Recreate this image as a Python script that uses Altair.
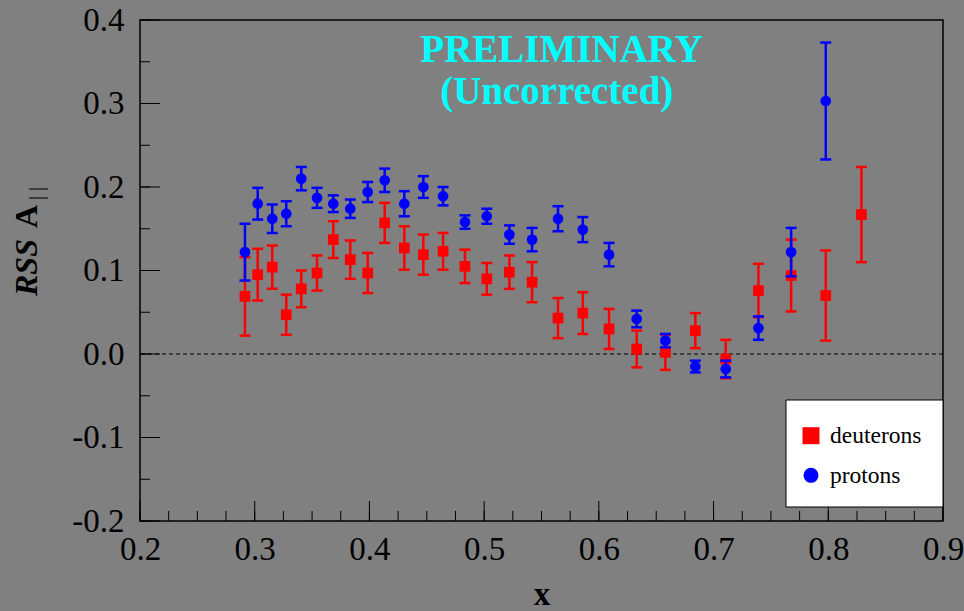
import altair as alt
import pandas as pd

# Bin centres in x (deuterons have one extra high-x bin)
x_bins = [0.2915, 0.3026, 0.3153, 0.3275, 0.3406, 0.3543, 0.3685, 0.3833,
          0.3985, 0.4133, 0.4304, 0.4470, 0.4642, 0.4833, 0.5023, 0.5220,
          0.5418, 0.5644, 0.5860, 0.6089, 0.6330, 0.6580, 0.6841, 0.7106,
          0.7391, 0.7676, 0.7978, 0.8289]

# Deuteron asymmetry and statistical errors
deut_a = [0.069, 0.095, 0.104, 0.047, 0.078, 0.097, 0.137, 0.113, 0.097,
          0.157, 0.127, 0.119, 0.123, 0.105, 0.090, 0.098, 0.086, 0.043,
          0.049, 0.030, 0.006, 0.002, 0.028, -0.006, 0.076, 0.094, 0.070,
          0.167]
deut_err = [0.047, 0.031, 0.026, 0.024, 0.022, 0.021, 0.022, 0.023, 0.024,
            0.024, 0.026, 0.024, 0.022, 0.020, 0.019, 0.020, 0.024, 0.024,
            0.025, 0.024, 0.022, 0.021, 0.021, 0.023, 0.032, 0.043, 0.054,
            0.057]

# Proton asymmetry and statistical errors
prot_a = [0.122, 0.180, 0.162, 0.168, 0.210, 0.187, 0.180, 0.174, 0.194,
          0.208, 0.180, 0.200, 0.189, 0.158, 0.165, 0.143, 0.137, 0.162,
          0.149, 0.119, 0.042, 0.016, -0.015, -0.018, 0.031, 0.122, 0.303]
prot_err = [0.034, 0.019, 0.017, 0.015, 0.014, 0.012, 0.010, 0.011, 0.012,
            0.014, 0.015, 0.013, 0.011, 0.008, 0.009, 0.011, 0.014, 0.015,
            0.015, 0.014, 0.010, 0.008, 0.007, 0.010, 0.014, 0.029, 0.070]

series_names = ["deuterons", "protons"]
series_colors = ["#FF0000", "#0000FF"]
series_shapes = ["square", "circle"]

x_ticks = [0.2, 0.3, 0.4, 0.5, 0.6, 0.7, 0.8, 0.9]
y_ticks = [-0.2, -0.1, 0.0, 0.1, 0.2, 0.3, 0.4]
x_minor = [round(0.2 + 0.025 * i, 3) for i in range(29)]
y_minor = [round(-0.2 + 0.05 * i, 3) for i in range(13)]

note_lines = ["PRELIMINARY", "(Uncorrected)"]
note_x = [0.5675, 0.5633]
note_y = [0.35, 0.30]

FONT = "Liberation Serif"
W, H = 803, 501

rows = []
for name, ys, es in [("deuterons", deut_a, deut_err), ("protons", prot_a, prot_err)]:
    for xv, yv, ev in zip(x_bins, ys, es):
        rows.append({"series": name, "x": xv, "a": yv, "lo": yv - ev, "hi": yv + ev})
df = pd.DataFrame(rows)

xscale = alt.Scale(domain=[0.2, 0.9], nice=False, zero=False)
yscale = alt.Scale(domain=[-0.2, 0.4], nice=False, zero=False)

label_expr = "replace(format(datum.value, '.1f'), '\u2212', '-')"

x_axis = alt.Axis(values=x_ticks, ticks=False, domain=False, grid=False,
                  labelFont=FONT, labelFontSize=33, labelColor="black",
                  labelPadding=12, labelFlush=False, labelOverlap=False,
                  labelExpr=label_expr, title="x", titleFont=FONT,
                  titleFontSize=33, titleFontWeight="bold", titleColor="black",
                  titlePadding=12)
y_axis = alt.Axis(values=y_ticks, ticks=False, domain=False, grid=False,
                  labelFont=FONT, labelFontSize=33, labelColor="black",
                  labelPadding=16, labelFlush=False, labelOverlap=False,
                  labelExpr=label_expr, title=None)


def X(field):
    return alt.X(field, scale=xscale, axis=x_axis, title="x")


def Y(field):
    return alt.Y(field, scale=yscale, axis=y_axis, title=None)


base = alt.Chart(df)

# Dashed zero reference line
zero_line = alt.Chart(pd.DataFrame({"z": [0.0]})).mark_rule(
    color="black", strokeWidth=1, strokeDash=[4, 3]
).encode(y=Y("z:Q"))

# Inward-pointing tick marks on bottom and left edges
xt_major = alt.Chart(pd.DataFrame({"v": x_ticks})).mark_rule(color="black", strokeWidth=1).encode(
    x=X("v:Q"), y=alt.value(H), y2=alt.value(H - 20))
xt_minor = alt.Chart(pd.DataFrame({"v": x_minor})).mark_rule(color="black", strokeWidth=1).encode(
    x=X("v:Q"), y=alt.value(H), y2=alt.value(H - 10))
yt_major = alt.Chart(pd.DataFrame({"v": y_ticks})).mark_rule(color="black", strokeWidth=1).encode(
    y=Y("v:Q"), x=alt.value(0), x2=alt.value(20))
yt_minor = alt.Chart(pd.DataFrame({"v": y_minor})).mark_rule(color="black", strokeWidth=1).encode(
    y=Y("v:Q"), x=alt.value(0), x2=alt.value(10))


def series_layers(name, color):
    sub = base.transform_filter(alt.datum.series == name)
    bars = sub.mark_rule(color=color, strokeWidth=2.5).encode(
        x=X("x:Q"), y=Y("lo:Q"), y2="hi:Q")
    caps = sub.transform_fold(["lo", "hi"], as_=["end", "yv"]).mark_tick(
        color=color, orient="horizontal", size=11, thickness=2.5, opacity=1
    ).encode(x=X("x:Q"), y=Y("yv:Q"))
    pts = sub.mark_point(filled=True, size=115, opacity=1).encode(
        x=X("x:Q"),
        y=Y("a:Q"),
        color=alt.Color("series:N",
                        scale=alt.Scale(domain=series_names, range=series_colors),
                        legend=None),
        shape=alt.Shape("series:N",
                        scale=alt.Scale(domain=series_names, range=series_shapes),
                        legend=None))
    return [bars, caps, pts]


notes = alt.Chart(pd.DataFrame({"x": note_x, "y": note_y, "t": note_lines})).mark_text(
    font=FONT, fontSize=39, fontWeight="bold", color="#00FFFF",
    align="center", baseline="alphabetic"
).encode(x=X("x:Q"), y=Y("y:Q"), text="t:N")

# Vertical axis title: italic "RSS", upright "A" and a parallel-bar subscript
one = pd.DataFrame({"k": [0]})
t_rss = alt.Chart(one).mark_text(font=FONT, fontSize=32, fontWeight="bold",
                                 fontStyle="italic", angle=270, align="left",
                                 baseline="alphabetic", color="black").encode(
    x=alt.value(-103), y=alt.value(276), text=alt.value("RSS"))
t_a = alt.Chart(one).mark_text(font=FONT, fontSize=32, fontWeight="bold",
                               angle=270, align="left", baseline="alphabetic",
                               color="black").encode(
    x=alt.value(-103), y=alt.value(208), text=alt.value("A"))
t_sub = alt.Chart(one).mark_text(font=FONT, fontSize=20, angle=270, align="left",
                                 baseline="alphabetic", color="black").encode(
    x=alt.value(-97), y=alt.value(180), text=alt.value("| |"))

# Legend box in the lower-right corner of the frame
leg_box = alt.Chart(one).mark_rect(fill="white", stroke="black", strokeWidth=1).encode(
    x=alt.value(646), x2=alt.value(803), y=alt.value(380), y2=alt.value(487))
leg_layers = [leg_box]
for i, (name, col, shp, sz) in enumerate(zip(series_names, series_colors,
                                              series_shapes, [289, 227])):
    yc = 415.7 + 39.6 * i
    leg_layers.append(alt.Chart(one).mark_point(
        filled=True, opacity=1, shape=shp, size=sz, color=col
    ).encode(x=alt.value(671), y=alt.value(yc)))
    leg_layers.append(alt.Chart(one).mark_text(
        font=FONT, fontSize=23.5, color="black", align="left", baseline="alphabetic"
    ).encode(x=alt.value(690), y=alt.value(yc + 7.6), text=alt.value(name)))

layers = ([zero_line, xt_minor, xt_major, yt_minor, yt_major]
          + series_layers("deuterons", "#FF0000")
          + series_layers("protons", "#0000FF")
          + [notes, t_rss, t_a, t_sub]
          + leg_layers)

chart = alt.layer(*layers).properties(
    width=W, height=H,
    autosize=alt.AutoSizeParams(type="none"),
    padding={"left": 140, "top": 20, "right": 21, "bottom": 90},
).configure(background="#808080", font=FONT).configure_view(
    stroke="black", strokeWidth=1.5
)

chart.save("out.html", embed_options={"renderer": "svg", "actions": False})
